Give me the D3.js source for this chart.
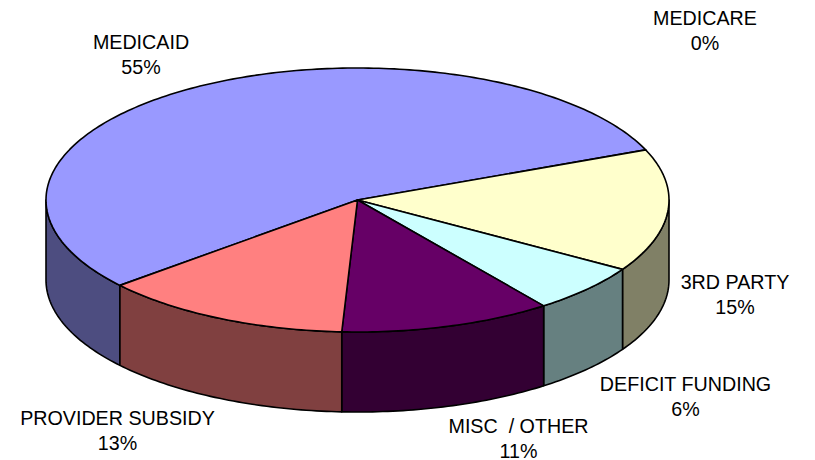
<!DOCTYPE html>
<html>
<head>
<meta charset="utf-8">
<script src="https://cdn.jsdelivr.net/npm/d3@7"></script>
<style>
    html, body { margin: 0; padding: 0; background: #fff; }
    text { font-family: "Liberation Sans", Arial, sans-serif; font-size: 19.7px; fill: #000; }
</style>
</head>
<body>
<svg id="chart" width="815" height="460"></svg>
<script>
const categories = ['MEDICAID', 'MEDICARE', '3RD PARTY', 'DEFICIT FUNDING', 'MISC  / OTHER', 'PROVIDER SUBSIDY'];
const values = [55, 0, 15, 6, 11, 13];
const topColors = ['#9999ff', '#993366', '#ffffcc', '#ccffff', '#660066', '#ff8080'];
const sideColors = ['#4d4d80', '#4d1a33', '#808066', '#668080', '#330033', '#804040'];
const labelX = [141, 705, 735, 685.5, 518.5, 117.5];
const labelY = [49, 25, 289, 391, 433, 425];

const CHART = d3.select('#chart');
const cx = 357.5, cy = 200, rx = 311.5, ry = 132, depth = 80;
const startAngle = 229.7 * Math.PI / 180;

let slices = d3.pie().sort(null)
    .startAngle(startAngle)
    .endAngle(startAngle + 2 * Math.PI)(values);

const px = a => cx + rx * Math.sin(a);
const py = a => cy - ry * Math.cos(a);

// sample points along the rim between two angles
function rim(a0, a1) {
    let n = Math.max(2, Math.ceil(Math.abs(a1 - a0) * 60));
    return d3.range(n + 1).map(i => a0 + (a1 - a0) * i / n);
}

const line = d3.line();

// walls: only the front half of the disc shows (90deg to 270deg)
let walls = [];
slices.forEach((s, i) => {
    [0, 2 * Math.PI].forEach(off => {
        let a0 = Math.max(s.startAngle - off, Math.PI / 2);
        let a1 = Math.min(s.endAngle - off, 3 * Math.PI / 2);
        if (a1 > a0) walls.push({ i: i, a0: a0, a1: a1 });
    });
});

CHART.append('g').selectAll('path')
    .data(walls)
    .join('path')
    .attr('d', d => {
        let front = rim(d.a0, d.a1).map(a => [px(a), py(a)]);
        let back = rim(d.a1, d.a0).map(a => [px(a), py(a) + depth]);
        return line(front.concat(back)) + 'Z';
    })
    .attr('fill', d => sideColors[d.i])
    .attr('stroke', '#000')
    .attr('stroke-width', 1.6)
    .attr('stroke-linejoin', 'round');

CHART.append('g').selectAll('path')
    .data(slices.filter(s => s.value > 0))
    .join('path')
    .attr('d', s => {
        let pts = rim(s.startAngle, s.endAngle).map(a => [px(a), py(a)]);
        return line([[cx, cy]].concat(pts)) + 'Z';
    })
    .attr('fill', s => topColors[s.index])
    .attr('stroke', '#000')
    .attr('stroke-width', 1.6)
    .attr('stroke-linejoin', 'round');

let labels = CHART.append('g').selectAll('text')
    .data(categories)
    .join('text')
    .attr('text-anchor', 'middle')
    .attr('transform', (d, i) => `translate(${labelX[i]},${labelY[i]})`);

labels.append('tspan').attr('x', 0).attr('y', 0).attr('xml:space', 'preserve').text(d => d);
labels.append('tspan').attr('x', 0).attr('y', 25).text((d, i) => values[i] + '%');
</script>
</body>
</html>
